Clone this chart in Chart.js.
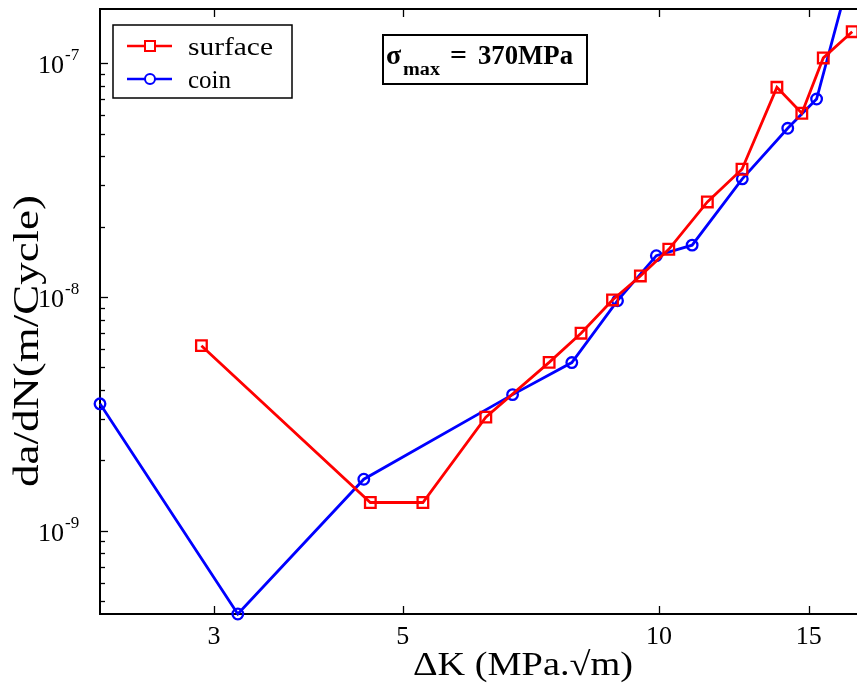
<!DOCTYPE html>
<html>
<head>
<meta charset="utf-8">
<script src="https://cdn.jsdelivr.net/npm/chart.js@4.4.0/dist/chart.umd.min.js"></script>
<style>
html, body { margin: 0; padding: 0; background: #fff; overflow: hidden; }
#wrap { width: 857px; height: 691px; position: relative; }
</style>
</head>
<body>
<div id="wrap"><canvas id="c"></canvas></div>
<script>
// values (dK in MPa.sqrt(m), da/dN in m/cycle)
const surfaceK = [2.90, 4.58, 5.28, 6.26, 7.43, 8.10, 8.82, 9.51, 10.27, 11.40, 12.52, 13.76, 14.72, 15.60, 16.87];
const surfaceRate = [6.19e-9, 1.32e-9, 1.32e-9, 3.06e-9, 5.25e-9, 7.00e-9, 9.71e-9, 1.23e-8, 1.60e-8, 2.55e-8, 3.52e-8, 7.89e-8, 6.11e-8, 1.054e-7, 1.365e-7];
const coinK = [2.204, 3.20, 4.50, 6.73, 7.90, 8.94, 9.93, 10.94, 12.53, 14.17, 15.32, 16.85];
const coinRate = [3.49e-9, 4.40e-10, 1.66e-9, 3.82e-9, 5.24e-9, 9.64e-9, 1.502e-8, 1.666e-8, 3.20e-8, 5.27e-8, 7.03e-8, 2.56e-7];
const kTicks = [3, 5, 10, 15];
const rateDecades = [1e-9, 1e-8, 1e-7];

const SERIF = '"Liberation Serif", "Times New Roman", serif';

function toPoints(xs, ys) {
    return xs.map((x, i) => ({x: x, y: ys[i]}));
}

// draws text squeezed/stretched horizontally to a given width
function fitText(ctx, str, x, y, font, width, align) {
    ctx.save();
    ctx.font = font;
    let w = ctx.measureText(str).width;
    let k = width ? width / w : 1;
    let x0 = x;
    if (align === 'center') x0 = x - w * k / 2;
    if (align === 'right') x0 = x - w * k;
    ctx.translate(x0, y);
    ctx.scale(k, 1);
    ctx.textAlign = 'left';
    ctx.textBaseline = 'alphabetic';
    ctx.fillText(str, 0, 0);
    ctx.restore();
}

const decor = {
    id: 'decor',
    afterDraw(chart) {
        const ctx = chart.ctx;
        const a = chart.chartArea;
        const xs = chart.scales.x, ys = chart.scales.y;
        ctx.save();
        ctx.strokeStyle = '#000';
        ctx.fillStyle = '#000';

        // top frame line
        ctx.lineWidth = 2;
        ctx.beginPath();
        ctx.moveTo(a.left - 1, a.top);
        ctx.lineTo(a.right, a.top);
        ctx.stroke();

        // inward ticks
        ctx.lineWidth = 1.3;
        kTicks.forEach(v => {
            let px = Math.round(xs.getPixelForValue(v)) + 0.5;
            ctx.beginPath();
            ctx.moveTo(px, a.bottom); ctx.lineTo(px, a.bottom - 8);
            ctx.moveTo(px, a.top); ctx.lineTo(px, a.top + 8);
            ctx.stroke();
        });
        for (let d = 1e-10; d < 1e-6; d *= 10) {
            for (let m = 1; m <= 9; m++) {
                let v = m * d;
                if (v < ys.min || v > ys.max) continue;
                let py = Math.round(ys.getPixelForValue(v)) + 0.5;
                ctx.beginPath();
                ctx.moveTo(a.left, py);
                ctx.lineTo(a.left + (m === 1 ? 8 : 5), py);
                ctx.stroke();
            }
        }

        // y tick labels 10^n
        rateDecades.forEach(d => {
            let py = ys.getPixelForValue(d);
            let exp = Math.round(Math.log10(d));
            fitText(ctx, '10', 64, py + 10, '26px ' + SERIF, 0, 'right');
            fitText(ctx, String(exp), 65, py - 3, '17px ' + SERIF, 0, 'left');
        });

        // axis titles
        fitText(ctx, '\u0394K (MPa.\u221Am)', 523, 675, '33px ' + SERIF, 220, 'center');
        ctx.save();
        ctx.translate(38, 341);
        ctx.rotate(-Math.PI / 2);
        fitText(ctx, 'da/dN(m/Cycle)', 0, 0, '35px ' + SERIF, 292, 'center');
        ctx.restore();

        // legend
        ctx.fillStyle = '#fff';
        ctx.fillRect(113, 25, 179, 73);
        ctx.lineWidth = 1.5;
        ctx.strokeRect(113, 25, 179, 73);
        const rows = [46, 79];
        chart.data.datasets.forEach((ds, i) => {
            let y = rows[i];
            ctx.strokeStyle = ds.borderColor;
            ctx.lineWidth = 2.5;
            ctx.beginPath();
            ctx.moveTo(127, y); ctx.lineTo(172, y);
            ctx.stroke();
            ctx.lineWidth = 2;
            ctx.fillStyle = '#fff';
            ctx.beginPath();
            if (ds.pointStyle === 'rect') {
                ctx.rect(145, y - 5, 10, 10);
            } else {
                ctx.arc(150, y, 5, 0, Math.PI * 2);
            }
            ctx.fill();
            ctx.stroke();
            ctx.fillStyle = '#000';
            fitText(ctx, ds.label, 188, y + 9, '25px ' + SERIF, ds.label === 'surface' ? 85 : 0, 'left');
        });

        // stress annotation
        ctx.fillStyle = '#fff';
        ctx.fillRect(383, 35, 204, 49);
        ctx.strokeStyle = '#000';
        ctx.lineWidth = 2;
        ctx.strokeRect(383, 35, 204, 49);
        ctx.fillStyle = '#000';
        fitText(ctx, '\u03C3', 386, 64, 'bold 28px ' + SERIF, 0, 'left');
        fitText(ctx, 'max', 403, 75, 'bold 18px ' + SERIF, 37, 'left');
        fitText(ctx, '=', 450, 64, 'bold 27px ' + SERIF, 17, 'left');
        fitText(ctx, '370MPa', 478, 64, 'bold 27px ' + SERIF, 95, 'left');

        ctx.restore();
    }
};

new Chart(document.getElementById('c'), {
    type: 'line',
    data: {
        datasets: [{
            label: 'surface',
            data: toPoints(surfaceK, surfaceRate),
            borderColor: '#ff0000',
            borderWidth: 2.8,
            pointStyle: 'rect',
            pointRadius: 7.5,
            pointBorderWidth: 2.3,
            pointBorderColor: '#ff0000',
            pointBackgroundColor: 'rgba(0,0,0,0)',
            tension: 0,
            clip: {left: 10, top: 0, right: 0, bottom: 10}
        }, {
            label: 'coin',
            data: toPoints(coinK, coinRate),
            borderColor: '#0000ff',
            borderWidth: 2.8,
            pointStyle: 'circle',
            pointRadius: 5.3,
            pointBorderWidth: 2.3,
            pointBorderColor: '#0000ff',
            pointBackgroundColor: 'rgba(0,0,0,0)',
            tension: 0,
            clip: {left: 10, top: 0, right: 0, bottom: 10}
        }]
    },
    options: {
        responsive: true,
        maintainAspectRatio: false,
        animation: false,
        layout: {autoPadding: false, padding: {top: 9, right: 0, left: 0, bottom: 0}},
        plugins: {
            legend: {display: false},
            tooltip: {enabled: false}
        },
        scales: {
            x: {
                type: 'logarithmic',
                min: 2.204,
                max: 17.09,
                afterBuildTicks: s => { s.ticks = kTicks.map(v => ({value: v})); },
                afterFit: s => { s.height = 77; },
                grid: {display: false, drawTicks: false},
                border: {display: true, color: '#000', width: 2},
                ticks: {
                    autoSkip: false,
                    maxRotation: 0,
                    padding: 8,
                    color: '#000',
                    font: {family: SERIF, size: 26},
                    callback: v => String(v)
                }
            },
            y: {
                type: 'logarithmic',
                min: 4.4e-10,
                max: 1.707e-7,
                afterFit: s => { s.width = 100; },
                grid: {display: false, drawTicks: false},
                border: {display: true, color: '#000', width: 2},
                ticks: {display: false}
            }
        }
    },
    plugins: [decor]
});
</script>
</body>
</html>
